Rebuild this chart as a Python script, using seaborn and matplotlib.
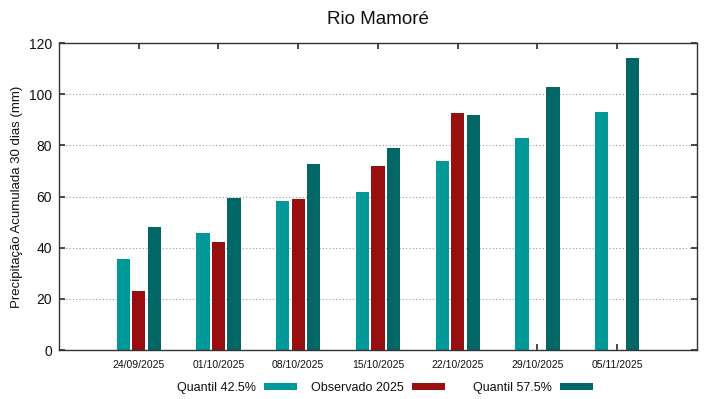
import numpy as np
import pandas as pd
import seaborn as sns
import matplotlib.pyplot as plt
from matplotlib.patches import Patch

datas = ["24/09/2025", "01/10/2025", "08/10/2025", "15/10/2025",
         "22/10/2025", "29/10/2025", "05/11/2025"]
q425 = [35.5, 45.8, 58.2, 61.9, 73.8, 82.8, 92.9]
observado = [23.0, 42.1, 59.0, 71.9, 92.5, np.nan, np.nan]
q575 = [47.9, 59.5, 72.6, 78.8, 91.9, 102.9, 114.3]

series = ["Quantil 42.5%", "Observado 2025", "Quantil 57.5%"]
cores = ["#009999", "#990f0f", "#006666"]

df = pd.DataFrame({"Data": datas, series[0]: q425,
                   series[1]: observado, series[2]: q575})
df = df.melt(id_vars="Data", var_name="Serie", value_name="Precip")

sns.set_theme(style="white", rc={"text.color": "#111111",
                                 "axes.labelcolor": "#111111",
                                 "xtick.color": "#111111",
                                 "ytick.color": "#111111"})
plt.rcParams['font.family'] = ['Liberation Sans', 'DejaVu Sans']

fig, ax = plt.subplots(figsize=(7.19, 3.99), dpi=100)
fig.subplots_adjust(left=0.082, right=0.9694, top=0.892, bottom=0.1228)

ax.yaxis.grid(True, linestyle=(0, (1, 2)), color="#999999", linewidth=0.8)
ax.set_axisbelow(True)

sns.barplot(data=df, x="Data", y="Precip", hue="Serie", hue_order=series,
            palette=cores, width=0.58, gap=0.14, saturation=1,
            edgecolor="none", legend=False, ax=ax)

ax.set_xlim(-1, 7)
ax.set_ylim(0, 120)
ax.set_yticks(range(0, 121, 20))
ax.set_xlabel("")
ax.set_ylabel("Precipitação Acumulada 30 dias (mm)", fontsize=9.5, labelpad=4)
ax.set_title("Rio Mamoré", fontsize=13.5, pad=14)

ax.tick_params(axis="x", labelsize=7.5, direction="in", length=4,
               top=True, bottom=True, pad=7, color="#333333")
ax.tick_params(axis="y", labelsize=10, direction="in", length=4,
               left=True, right=True, pad=5, color="#333333")
for s in ax.spines.values():
    s.set_color("#333333")
    s.set_linewidth(1)

# gnuplot-style key: text right-aligned, sample to the right of it
fins = [297, 445, 593]
for nome, cor, xf in zip(series, cores, fins):
    leg = fig.legend([Patch(facecolor=cor, edgecolor="none")], [nome],
                     loc="center right", bbox_to_anchor=(xf / 719, 11 / 399),
                     frameon=False, markerfirst=False, fontsize=9,
                     handlelength=2.65, handleheight=0.42, handletextpad=0.65,
                     borderpad=0, borderaxespad=0)

plt.savefig("out.png", dpi=100)
